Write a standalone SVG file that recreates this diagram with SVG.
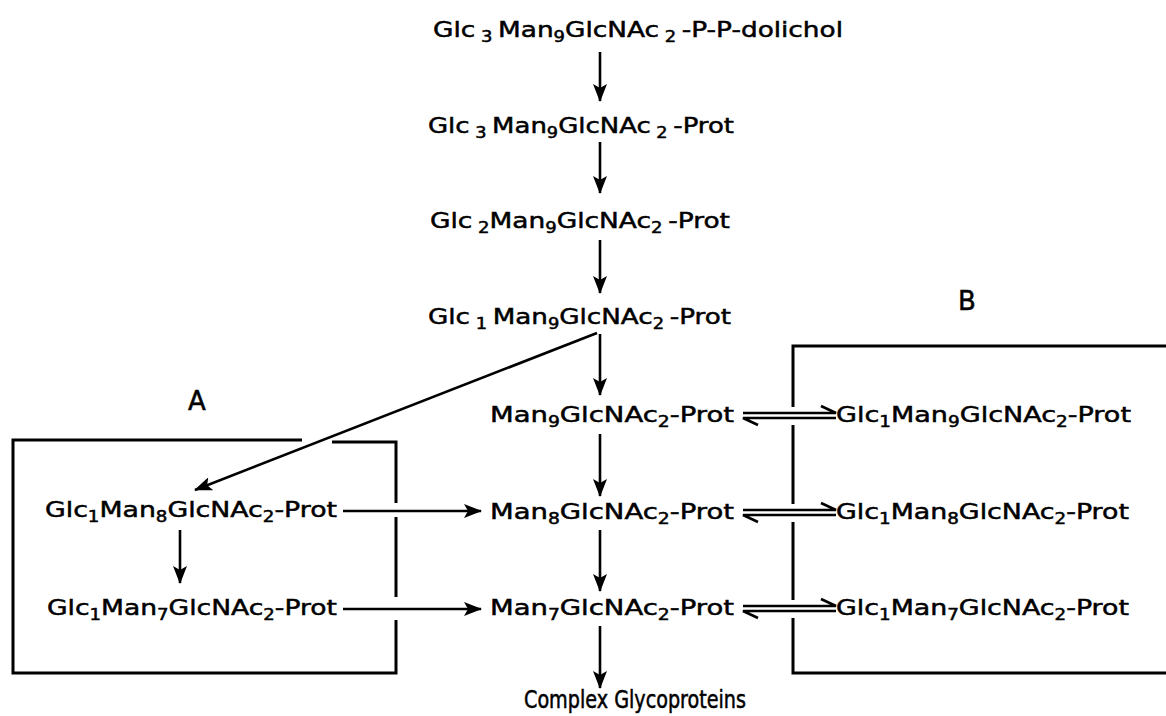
<svg xmlns="http://www.w3.org/2000/svg" width="1166" height="716" viewBox="0 0 1166 716">
<defs>
<marker id="ah" markerWidth="18" markerHeight="14" refX="17" refY="7" orient="auto" markerUnits="userSpaceOnUse">
<path d="M0,0 L18,7 L0,14 L4,7 z" fill="#000"/>
</marker>
</defs>
<style>
text{font-family:"DejaVu Sans","Liberation Sans",sans-serif;font-size:22px;fill:#000;stroke:#000;stroke-width:0.5}
.s{font-size:15px}
.lbl{font-size:26px}
.cg{font-family:"DejaVu Sans Condensed","DejaVu Sans",sans-serif;font-size:25px}
.ar{stroke:#000;stroke-width:2.6;fill:none;marker-end:url(#ah)}
.ln{stroke:#000;stroke-width:2.6;fill:none}
.bx{stroke:#000;stroke-width:3;fill:none}
</style>
<rect width="1166" height="716" fill="#fff"/>

<g id="boxA">
<path class="bx" d="M302,440 L13,440 L13,673 L396,673 L396,620 M396,597 L396,517 M396,503 L396,442 L332,442"/>
<text class="lbl" x="188" y="410">A</text>
</g>
<g id="boxB">
<path class="bx" d="M1166,346 L793,346 L793,407 M793,425 L793,504 M793,522 L793,600 M793,618 L793,673 L1166,673"/>
<text class="lbl" x="958" y="310">B</text>
</g>

<g id="n1"><text x="433" y="37" textLength="410" lengthAdjust="spacingAndGlyphs">Glc<tspan class="s" dy="5"> 3 </tspan><tspan dy="-5">Man</tspan><tspan class="s" dy="5">9</tspan><tspan dy="-5">GlcNAc</tspan><tspan class="s" dy="5"> 2 </tspan><tspan dy="-5">-P-P-dolichol</tspan></text></g>
<g id="n2"><text x="428" y="133" textLength="306" lengthAdjust="spacingAndGlyphs">Glc<tspan class="s" dy="5"> 3 </tspan><tspan dy="-5">Man</tspan><tspan class="s" dy="5">9</tspan><tspan dy="-5">GlcNAc</tspan><tspan class="s" dy="5"> 2 </tspan><tspan dy="-5">-Prot</tspan></text></g>
<g id="n3"><text x="430" y="228" textLength="300" lengthAdjust="spacingAndGlyphs">Glc<tspan class="s" dy="5"> 2</tspan><tspan dy="-5">Man</tspan><tspan class="s" dy="5">9</tspan><tspan dy="-5">GlcNAc</tspan><tspan class="s" dy="5">2 </tspan><tspan dy="-5">-Prot</tspan></text></g>
<g id="n4"><text x="428" y="324" textLength="303" lengthAdjust="spacingAndGlyphs">Glc<tspan class="s" dy="5"> 1 </tspan><tspan dy="-5">Man</tspan><tspan class="s" dy="5">9</tspan><tspan dy="-5">GlcNAc</tspan><tspan class="s" dy="5">2 </tspan><tspan dy="-5">-Prot</tspan></text></g>
<g id="n5"><text x="490" y="422" textLength="244" lengthAdjust="spacingAndGlyphs">Man<tspan class="s" dy="5">9</tspan><tspan dy="-5">GlcNAc</tspan><tspan class="s" dy="5">2</tspan><tspan dy="-5">-Prot</tspan></text></g>
<g id="n6"><text x="490" y="519" textLength="244" lengthAdjust="spacingAndGlyphs">Man<tspan class="s" dy="5">8</tspan><tspan dy="-5">GlcNAc</tspan><tspan class="s" dy="5">2</tspan><tspan dy="-5">-Prot</tspan></text></g>
<g id="n7"><text x="490" y="615" textLength="244" lengthAdjust="spacingAndGlyphs">Man<tspan class="s" dy="5">7</tspan><tspan dy="-5">GlcNAc</tspan><tspan class="s" dy="5">2</tspan><tspan dy="-5">-Prot</tspan></text></g>
<g id="n8"><text class="cg" x="524" y="708" textLength="222" lengthAdjust="spacingAndGlyphs">Complex Glycoproteins</text></g>
<g id="a1"><text x="45" y="517" textLength="292" lengthAdjust="spacingAndGlyphs">Glc<tspan class="s" dy="5">1</tspan><tspan dy="-5">Man</tspan><tspan class="s" dy="5">8</tspan><tspan dy="-5">GlcNAc</tspan><tspan class="s" dy="5">2</tspan><tspan dy="-5">-Prot</tspan></text></g>
<g id="a2"><text x="47" y="615" textLength="290" lengthAdjust="spacingAndGlyphs">Glc<tspan class="s" dy="5">1</tspan><tspan dy="-5">Man</tspan><tspan class="s" dy="5">7</tspan><tspan dy="-5">GlcNAc</tspan><tspan class="s" dy="5">2</tspan><tspan dy="-5">-Prot</tspan></text></g>
<g id="b1"><text x="836" y="422" textLength="295" lengthAdjust="spacingAndGlyphs">Glc<tspan class="s" dy="5">1</tspan><tspan dy="-5">Man</tspan><tspan class="s" dy="5">9</tspan><tspan dy="-5">GlcNAc</tspan><tspan class="s" dy="5">2</tspan><tspan dy="-5">-Prot</tspan></text></g>
<g id="b2"><text x="836" y="519" textLength="293" lengthAdjust="spacingAndGlyphs">Glc<tspan class="s" dy="5">1</tspan><tspan dy="-5">Man</tspan><tspan class="s" dy="5">8</tspan><tspan dy="-5">GlcNAc</tspan><tspan class="s" dy="5">2</tspan><tspan dy="-5">-Prot</tspan></text></g>
<g id="b3"><text x="836" y="615" textLength="293" lengthAdjust="spacingAndGlyphs">Glc<tspan class="s" dy="5">1</tspan><tspan dy="-5">Man</tspan><tspan class="s" dy="5">7</tspan><tspan dy="-5">GlcNAc</tspan><tspan class="s" dy="5">2</tspan><tspan dy="-5">-Prot</tspan></text></g>

<g id="connectors">
<line class="ar" x1="600" y1="52" x2="600" y2="101"/>
<line class="ar" x1="600" y1="142" x2="600" y2="193"/>
<line class="ar" x1="600" y1="240" x2="600" y2="293"/>
<line class="ar" x1="600" y1="334" x2="600" y2="395"/>
<line class="ar" x1="600" y1="434" x2="600" y2="496"/>
<line class="ar" x1="600" y1="530" x2="600" y2="591"/>
<line class="ar" x1="600" y1="626" x2="600" y2="688"/>
<line class="ar" x1="180" y1="530" x2="180" y2="583"/>
<line class="ar" x1="597" y1="333" x2="195" y2="490"/>
<line class="ar" x1="343" y1="511" x2="481" y2="511"/>
<line class="ar" x1="343" y1="609" x2="481" y2="609"/>
<path class="ln" d="M743,413 L836,413 L821,406 M836,418 L743,418 L758,425"/>
<path class="ln" d="M743,510 L836,510 L821,503 M836,515 L743,515 L758,522"/>
<path class="ln" d="M743,606 L836,606 L821,599 M836,611 L743,611 L758,618"/>
</g>
</svg>
